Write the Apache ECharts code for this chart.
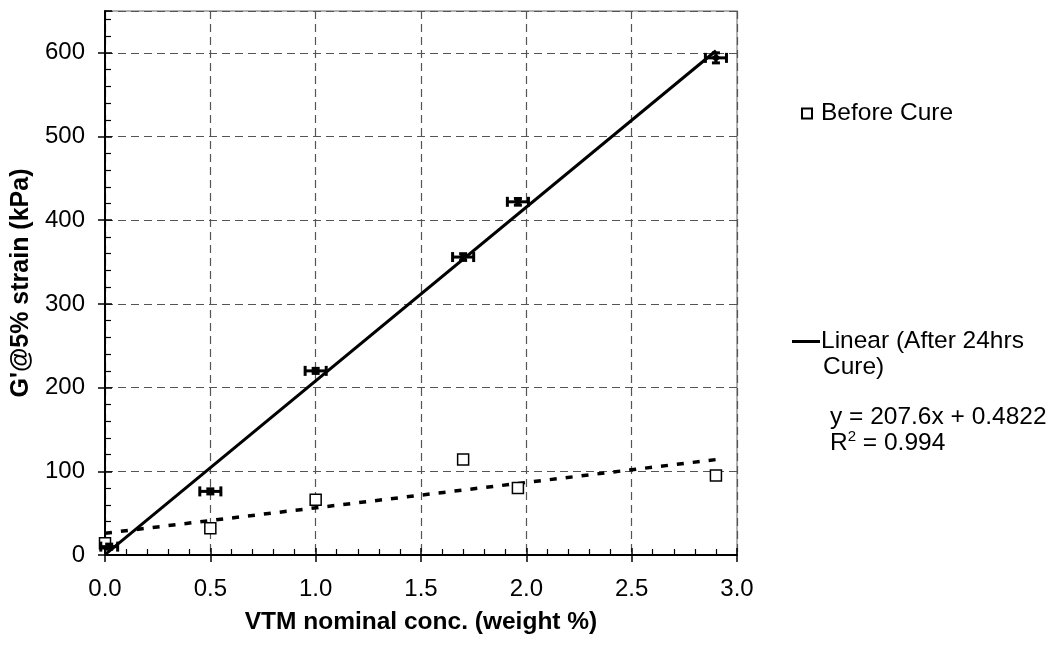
<!DOCTYPE html>
<html>
<head>
<meta charset="utf-8">
<script src="https://cdn.jsdelivr.net/npm/echarts@6/dist/echarts.min.js"></script>
<style>
  html, body { margin: 0; padding: 0; background: #fff; }
  #chart { width: 1050px; height: 646px; }
</style>
</head>
<body>
<div id="chart"></div>
<script>
// before cure (open squares)
var beforeX = [0.0, 0.5, 1.0, 1.7, 1.96, 2.9];
var beforeY = [14, 32, 66, 114, 80, 95];

// after 24hrs cure (points with error bars)
var afterX = [0.02, 0.5, 1.0, 1.7, 1.96, 2.9];
var afterY = [10, 76, 220, 356, 422, 594];
var afterXErr = [0.04, 0.05, 0.05, 0.05, 0.05, 0.05];
var afterYErr = [3, 3, 3, 4, 4, 6];

// trend lines (end points)
var trendAfterX = [0, 2.9];
var trendAfterY = [0.5, 602.5];
var trendBeforeX = [0, 2.9];
var trendBeforeY = [26, 114];

var xTicks = [0, 0.5, 1.0, 1.5, 2.0, 2.5, 3.0];
var yTicks = [0, 100, 200, 300, 400, 500, 600];

function pairs(xs, ys) {
    return xs.map(function (x, i) { return [x, ys[i]]; });
}

var chartDom = document.getElementById('chart');
var myChart = echarts.init(chartDom);
var option;

var font = 'Liberation Sans, Arial, sans-serif';

var errData = afterX.map(function (x, i) {
    return [x, afterY[i], afterXErr[i], afterYErr[i]];
});

option = {
    animation: false,
    grid: {
        left: 105,
        top: 11,
        right: 313,
        bottom: 91,
        show: true,
        borderColor: '#999',
        borderWidth: 1.5
    },
    legend: [{
        data: ['Before Cure'],
        left: 796,
        top: 96,
        itemWidth: 10,
        itemHeight: 10,
        itemGap: 0,
        textStyle: {fontSize: 24.5, fontFamily: font, color: '#000', padding: [0, 0, 0, 4]}
    }, {
        data: [{name: 'Linear (After 24hrs Cure)', icon: 'rect'}],
        left: 787,
        top: 324,
        itemWidth: 28,
        itemHeight: 3,
        formatter: function () { return 'Linear (After 24hrs'; },
        textStyle: {fontSize: 24.5, fontFamily: font, color: '#000', padding: [0, 0, 0, -4]}
    }],
    graphic: [{
        type: 'text', left: 823, top: 355,
        style: {text: 'Cure)', font: '24.5px ' + font, fill: '#000'}
    }, {
        type: 'text', left: 830, top: 405,
        style: {text: 'y = 207.6x + 0.4822', font: '24.5px ' + font, fill: '#000'}
    }, {
        type: 'text', left: 830, top: 429,
        style: {
            text: '{a|R}{s|2}{a| = 0.994}',
            rich: {
                a: {font: '24.5px ' + font, fill: '#000', verticalAlign: 'bottom'},
                s: {font: '15px ' + font, fill: '#000', verticalAlign: 'top', padding: [0, 0, 12, 0]}
            }
        }
    }],
    xAxis: [{
        type: 'value',
        min: 0,
        max: 3,
        interval: 0.5,
        name: 'VTM nominal conc. (weight %)',
        nameLocation: 'middle',
        nameGap: 55,
        nameTextStyle: {fontSize: 24.5, fontWeight: 'bold', fontFamily: font, color: '#000'},
        axisLine: {onZero: false, lineStyle: {color: '#000', width: 2}},
        axisTick: {show: true, inside: false, length: 7, lineStyle: {color: '#000', width: 1.5}},
        axisLabel: {
            fontSize: 24, fontFamily: font, color: '#000', margin: 22,
            formatter: function (v) { return v.toFixed(1); }
        },
        splitLine: {show: true, lineStyle: {color: '#555', type: [8, 5], width: 1.2}}
    }, {
        type: 'value',
        min: 0,
        max: 3,
        interval: 0.5,
        position: 'bottom',
        axisLine: {show: false},
        axisLabel: {show: false},
        axisTick: {show: true, inside: true, length: 7, lineStyle: {color: '#000', width: 1.5}},
        minorTick: {show: true, splitNumber: 5, length: 6, lineStyle: {color: '#000', width: 1.2}},
        splitLine: {show: false}
    }],
    yAxis: [{
        type: 'value',
        min: 0,
        max: 650,
        interval: 100,
        name: "G'@5% strain (kPa)",
        nameLocation: 'middle',
        nameGap: 71,
        nameTextStyle: {fontSize: 25, fontWeight: 'bold', fontFamily: font, color: '#000'},
        axisLine: {show: true, onZero: false, lineStyle: {color: '#000', width: 2}},
        axisTick: {show: true, inside: false, length: 7, lineStyle: {color: '#000', width: 1.5}},
        axisLabel: {fontSize: 24, fontFamily: font, color: '#000', margin: 20, showMaxLabel: false},
        splitLine: {show: true, lineStyle: {color: '#555', type: [8, 5], width: 1.2}}
    }, {
        type: 'value',
        min: 0,
        max: 650,
        interval: 100,
        position: 'left',
        axisLine: {show: false},
        axisLabel: {show: false},
        axisTick: {show: true, inside: true, length: 7, lineStyle: {color: '#000', width: 1.5}},
        minorTick: {show: true, splitNumber: 5, length: 6, lineStyle: {color: '#000', width: 1.2}},
        splitLine: {show: false}
    }],
    series: [
        {
            name: 'Before Cure trend',
            type: 'line',
            data: pairs(trendBeforeX, trendBeforeY),
            symbol: 'none',
            lineStyle: {color: '#000', width: 3.5, type: [7, 9]},
            z: 3
        },
        {
            name: 'Linear (After 24hrs Cure)',
            type: 'line',
            data: pairs(trendAfterX, trendAfterY),
            symbol: 'none',
            itemStyle: {color: '#000'},
            lineStyle: {color: '#000', width: 3},
            z: 3
        },
        {
            name: 'Before Cure',
            type: 'scatter',
            data: pairs(beforeX, beforeY),
            symbol: 'rect',
            symbolSize: 11,
            itemStyle: {color: '#fff', borderColor: '#000', borderWidth: 1.5, opacity: 1},
            z: 4
        },
        {
            name: 'After 24hrs Cure',
            type: 'custom',
            data: errData,
            encode: {x: 0, y: 1},
            renderItem: function (params, api) {
                var x = api.value(0), y = api.value(1);
                var ex = api.value(2), ey = api.value(3);
                var c = api.coord([x, y]);
                var l = api.coord([x - ex, y]);
                var r = api.coord([x + ex, y]);
                var t = api.coord([x, y + ey]);
                var b = api.coord([x, y - ey]);
                var st = {stroke: '#000', lineWidth: 3};
                var cap = 5;
                return {
                    type: 'group',
                    children: [
                        {type: 'line', shape: {x1: l[0], y1: l[1], x2: r[0], y2: r[1]}, style: st},
                        {type: 'line', shape: {x1: l[0], y1: l[1] - cap, x2: l[0], y2: l[1] + cap}, style: st},
                        {type: 'line', shape: {x1: r[0], y1: r[1] - cap, x2: r[0], y2: r[1] + cap}, style: st},
                        {type: 'line', shape: {x1: t[0], y1: t[1], x2: b[0], y2: b[1]}, style: st},
                        {type: 'line', shape: {x1: t[0] - 4, y1: t[1], x2: t[0] + 4, y2: t[1]}, style: st},
                        {type: 'line', shape: {x1: b[0] - 4, y1: b[1], x2: b[0] + 4, y2: b[1]}, style: st},
                        {type: 'polygon', shape: {points: [[c[0], c[1] - 4], [c[0] + 5, c[1]], [c[0], c[1] + 4], [c[0] - 5, c[1]]]},
                            style: {fill: '#000'}}
                    ]
                };
            },
            z: 5
        }
    ]
};

option && myChart.setOption(option);
</script>
</body>
</html>
